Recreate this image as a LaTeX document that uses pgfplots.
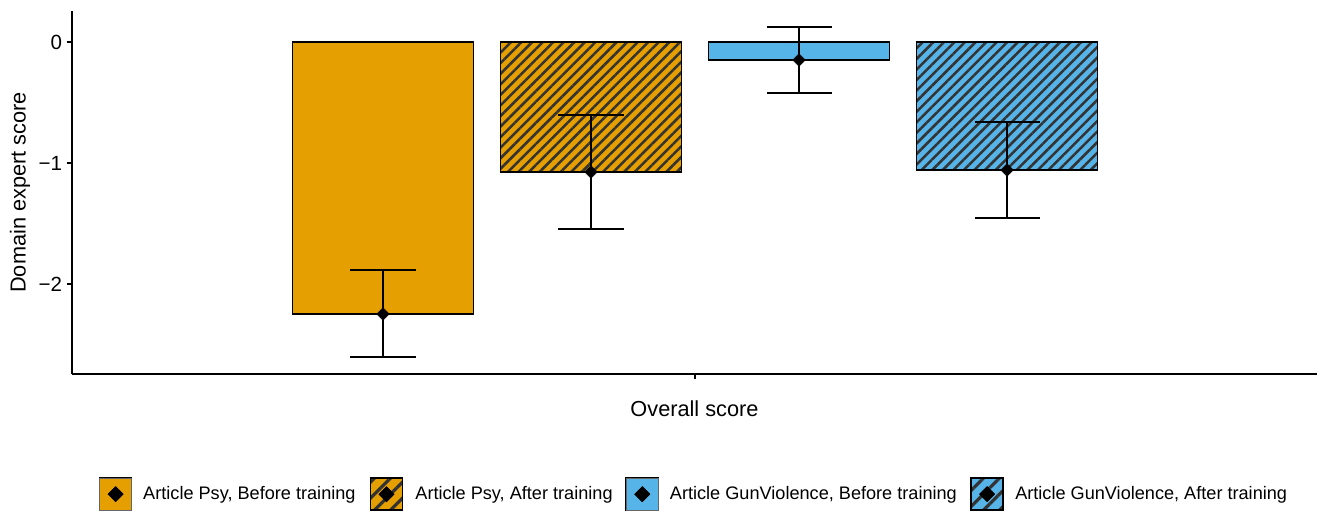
\documentclass[border=0pt]{standalone}
\usepackage{pgfplots}
\pgfplotsset{compat=1.18}
\usepackage{fontspec}
\setmainfont{Liberation Sans}
\usetikzlibrary{patterns.meta}
\definecolor{cpsy}{HTML}{E69F00}
\definecolor{cgun}{HTML}{56B4E9}
\definecolor{stripe}{HTML}{333333}
\tikzset{hatch/.style={pattern={Lines[angle=45,distance=5.6pt,line width=1.9pt]}, pattern color=stripe}}
\pgfplotsset{
  legsolid/.style={legend image code/.code={
    \draw[draw=black!60, line width=0.5pt, fill=#1] (0pt,-12pt) rectangle (24pt,12pt);
    \fill[black] (12pt,5pt) -- (17pt,0pt) -- (12pt,-5pt) -- (7pt,0pt) -- cycle;}},
  leghatch/.style={legend image code/.code={
    \draw[draw=black!60, line width=0.5pt, fill=#1] (0pt,-12pt) rectangle (24pt,12pt);
    \path[pattern={Lines[angle=45,distance=8.5pt,line width=2.4pt]}, pattern color=stripe] (0pt,-12pt) rectangle (24pt,12pt);
    \fill[black] (12pt,5pt) -- (17pt,0pt) -- (12pt,-5pt) -- (7pt,0pt) -- cycle;}},
}
\begin{document}
\begin{tikzpicture}
\begin{axis}[
  name=ax, scale only axis, width=933.75pt, height=272.25pt,
  xmin=-0.495, xmax=5.49, ymin=-2.744, ymax=0.256,
  axis lines*=left, axis line style={line width=1.1pt, black},
  ytick={-2,-1,0}, yticklabels={−2,−1,0},
  xtick={2.5}, xticklabels={\empty},
  tick style={line width=1.1pt, black}, tick align=outside, major tick length=4pt,
  ticklabel style={font=\fontsize{15.4}{18}\selectfont},
  xlabel={Overall score}, ylabel={Domain expert score},
  every axis x label/.style={at={(axis description cs:0.5,0)}, anchor=center, yshift=-26.25pt, font=\fontsize{16.3}{19}\selectfont},
  every axis y label/.style={at={(axis description cs:-0.0418,0.5)}, rotate=90, anchor=center, font=\fontsize{16.3}{19}\selectfont},
  legend columns=4,
  legend style={at={(0.5,-0.331)}, anchor=center, draw=none, fill=none,
    font=\fontsize{13.6}{16}\selectfont,
    /tikz/every odd column/.append style={column sep=6.5pt},
    /tikz/every even column/.append style={column sep=8pt}},
  legend cell align=left,
]
\addplot[ybar, bar width=0.87, bar shift=0pt, preaction={fill=cpsy}, draw=black, line width=1.3pt, legsolid=cpsy] coordinates {(1,-2.248)};
\addlegendentry{Article Psy, Before training}
\addplot[ybar, bar width=0.87, bar shift=0pt, preaction={fill=cpsy}, hatch, draw=black, line width=1.3pt, leghatch=cpsy] coordinates {(2,-1.074)};
\addlegendentry{Article Psy, After training}
\addplot[ybar, bar width=0.87, bar shift=0pt, preaction={fill=cgun}, draw=black, line width=1.3pt, legsolid=cgun] coordinates {(3,-0.149)};
\addlegendentry{Article GunViolence, Before training}
\addplot[ybar, bar width=0.87, bar shift=0pt, preaction={fill=cgun}, hatch, draw=black, line width=1.3pt, leghatch=cgun] coordinates {(4,-1.058)};
\addlegendentry{Article GunViolence, After training}
\addplot[forget plot, only marks, black, mark=square*, mark size=3.3pt,
  mark options={rotate=45, fill=black, draw=black},
  error bars/.cd, y dir=both, y explicit,
  error bar style={line width=1.1pt, black},
  error mark options={rotate=90, mark size=24.4pt, line width=1.1pt, black}]
  coordinates {
  (1,-2.248) += (0,0.364) -= (0,0.355)
  (2,-1.074) += (0,0.471) -= (0,0.471)
  (3,-0.149) += (0,0.273) -= (0,0.272)
  (4,-1.058) += (0,0.397) -= (0,0.397)
  };
\end{axis}
\pgfresetboundingbox
\path[use as bounding box] ([shift={(-54pt,-118.5pt)}]ax.south west) rectangle ([shift={(942.75pt,280.5pt)}]ax.south west);
\end{tikzpicture}
\end{document}
